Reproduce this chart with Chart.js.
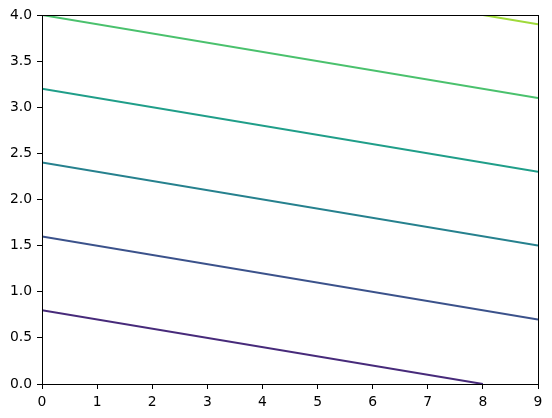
<!DOCTYPE html>
<html>
<head>
<meta charset="utf-8">
<script src="https://cdn.jsdelivr.net/npm/chart.js@4"></script>
<style>
  html, body { margin: 0; padding: 0; background: #fff; }
  #wrap { width: 552px; height: 418px; }
</style>
</head>
<body>
<div id="wrap"><canvas id="contourChart" width="552" height="418"></canvas></div>
<script>
// contour levels and the end points of each level line
const levels = [8, 16, 24, 32, 40, 48];
const startX = [0, 0, 0, 0, 0, 8];
const startY = [0.8, 1.6, 2.4, 3.2, 4.0, 4.0];
const endX = [8, 9, 9, 9, 9, 9];
const endY = [0, 0.7, 1.5, 2.3, 3.1, 3.9];
const lineColors = ['#472a7a', '#3b528b', '#26818e', '#1f9e89', '#4ac16d', '#9fda3a'];

const xTicks = [0, 1, 2, 3, 4, 5, 6, 7, 8, 9];
const yTicks = [0, 0.5, 1, 1.5, 2, 2.5, 3, 3.5, 4];

// draw the box round the plot area like matplotlib spines
const frameBox = {
    id: 'frameBox',
    afterDraw(chart) {
        const a = chart.chartArea;
        const ctx = chart.ctx;
        ctx.save();
        ctx.strokeStyle = '#000';
        ctx.lineWidth = 1;
        ctx.strokeRect(Math.round(a.left) + 0.5, Math.round(a.top) + 0.5,
            Math.round(a.right - a.left), Math.round(a.bottom - a.top));
        ctx.restore();
    }
};

document.addEventListener('DOMContentLoaded', function() {
    const ctx = document.getElementById('contourChart');

    const datasets = levels.map(function(level, i) {
        return {
            label: 'level ' + level,
            data: [{ x: startX[i], y: startY[i] }, { x: endX[i], y: endY[i] }],
            borderColor: lineColors[i],
            borderWidth: 2,
            pointRadius: 0,
            fill: false,
            tension: 0
        };
    });

    new Chart(ctx.getContext('2d'), {
        type: 'line',
        data: { datasets: datasets },
        options: {
            responsive: false,
            animation: false,
            layout: { padding: { left: 0, right: 14, top: 15, bottom: 0 } },
            plugins: {
                legend: { display: false },
                tooltip: { enabled: false }
            },
            scales: {
                x: {
                    type: 'linear',
                    min: 0,
                    max: 9,
                    afterFit: function(scale) { scale.height = 34; },
                    afterBuildTicks: function(scale) {
                        scale.ticks = xTicks.map(function(v) { return { value: v }; });
                    },
                    ticks: {
                        color: '#000',
                        font: { family: 'DejaVu Sans', size: 13.9 },
                        padding: 5,
                        maxRotation: 0,
                        autoSkip: false,
                        callback: function(value) { return value; }
                    },
                    grid: {
                        drawOnChartArea: false,
                        drawTicks: true,
                        tickLength: 5,
                        color: '#000'
                    },
                    border: { display: false }
                },
                y: {
                    type: 'linear',
                    min: 0,
                    max: 4,
                    afterFit: function(scale) { scale.width = 42; },
                    afterBuildTicks: function(scale) {
                        scale.ticks = yTicks.map(function(v) { return { value: v }; });
                    },
                    ticks: {
                        color: '#000',
                        font: { family: 'DejaVu Sans', size: 13.9 },
                        padding: 5,
                        autoSkip: false,
                        callback: function(value) { return Number(value).toFixed(1); }
                    },
                    grid: {
                        drawOnChartArea: false,
                        drawTicks: true,
                        tickLength: 5,
                        color: '#000'
                    },
                    border: { display: false }
                }
            }
        },
        plugins: [frameBox]
    });
});
</script>
</body>
</html>
